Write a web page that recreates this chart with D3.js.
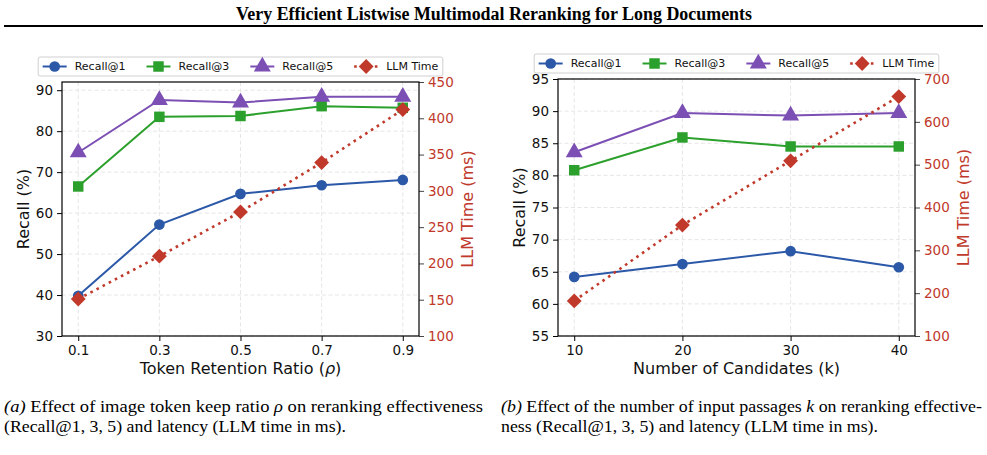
<!DOCTYPE html>
<html>
<head>
<meta charset="utf-8">
<script src="https://cdn.jsdelivr.net/npm/d3@7"></script>
<style>
  body { margin: 0; background: #fff; }
  svg { display: block; }
  .tick text { font-family: "DejaVu Sans", sans-serif; }
</style>
</head>
<body>
<svg id="fig" width="987" height="455"></svg>
<script>
// values
const seriesNames = ["Recall@1", "Recall@3", "Recall@5", "LLM Time"];

const ratioTicks = [0.1, 0.3, 0.5, 0.7, 0.9];
const ratioR1 = [39.8, 57.2, 64.7, 66.8, 68.1];
const ratioR3 = [66.5, 83.5, 83.7, 86.1, 85.7];
const ratioR5 = [74.8, 87.6, 87.0, 88.4, 88.4];
const ratioTime = [151, 210, 271, 339, 412];
const ratioRecallTicks = [30, 40, 50, 60, 70, 80, 90];
const ratioTimeTicks = [100, 150, 200, 250, 300, 350, 400, 450];

const candTicks = [10, 20, 30, 40];
const candR1 = [64.2, 66.2, 68.2, 65.7];
const candR3 = [80.8, 85.9, 84.5, 84.5];
const candR5 = [83.6, 89.7, 89.3, 89.7];
const candTime = [182, 359, 509, 659];
const candRecallTicks = [55, 60, 65, 70, 75, 80, 85, 90, 95];
const candTimeTicks = [100, 200, 300, 400, 500, 600, 700];

const colors = ["#2c58a8", "#2ca02c", "#7b4fb3", "#c0392b"];
const symbols = [d3.symbolCircle, d3.symbolSquare, d3.symbolTriangle, d3.symbolSquare];
const symSizes = [90, 110, 125, 110];
const symRotate = [0, 0, 0, 45];   // matplotlib 'D' is a square turned 45 degrees

const svg = d3.select("#fig");
const sans = "DejaVu Sans, sans-serif";
const serif = "Liberation Serif, Times New Roman, serif";

// title + rule
svg.append("text")
  .attr("x", 236).attr("y", 20)
  .attr("textLength", 516).attr("lengthAdjust", "spacingAndGlyphs")
  .style("font-family", serif).style("font-weight", "bold").style("font-size", "18px")
  .text("Very Efficient Listwise Multimodal Reranking for Long Documents");
svg.append("line")
  .attr("x1", 4).attr("x2", 983).attr("y1", 26).attr("y2", 26)
  .attr("stroke", "#000").attr("stroke-width", 2);

function marker(sel, i) {
  return sel.append("path")
    .attr("d", d3.symbol().type(symbols[i]).size(symSizes[i]))
    .attr("fill", colors[i]);
}

function drawPanel(p) {
  const x = d3.scaleLinear().domain(p.xDomain).range([p.left, p.right]);
  const y = d3.scaleLinear().domain(p.yDomain).range([p.bottom, p.top]);
  const y2 = d3.scaleLinear().domain(p.y2Domain).range([p.bottom, p.top]);
  const g = svg.append("g");

  // grid
  g.append("g").selectAll("line").data(p.xTicks).join("line")
    .attr("x1", d => x(d)).attr("x2", d => x(d))
    .attr("y1", p.top).attr("y2", p.bottom)
    .attr("stroke", "#e3e3e3").attr("stroke-dasharray", "4,2.5").attr("stroke-width", 0.9);
  g.append("g").selectAll("line").data(p.yTicks).join("line")
    .attr("x1", p.left).attr("x2", p.right)
    .attr("y1", d => y(d)).attr("y2", d => y(d))
    .attr("stroke", "#e3e3e3").attr("stroke-dasharray", "4,2.5").attr("stroke-width", 0.9);

  // axes
  const ax = g.append("g").attr("transform", `translate(0,${p.bottom})`)
    .call(d3.axisBottom(x).tickValues(p.xTicks).tickFormat(p.xFormat).tickSize(5).tickPadding(4));
  const ay = g.append("g").attr("transform", `translate(${p.left},0)`)
    .call(d3.axisLeft(y).tickValues(p.yTicks).tickSize(5).tickPadding(4));
  const ay2 = g.append("g").attr("transform", `translate(${p.right},0)`)
    .call(d3.axisRight(y2).tickValues(p.y2Ticks).tickSize(5).tickPadding(4));
  [ax, ay, ay2].forEach(a => {
    a.select(".domain").remove();
    a.selectAll(".tick line").attr("stroke", "#000").attr("stroke-width", 1);
    a.selectAll(".tick text").style("font-size", "13.5px").attr("fill", "#111");
  });
  ay2.selectAll(".tick text").attr("fill", colors[3]);
  ay2.selectAll(".tick line").attr("stroke", "#444");

  // frame
  g.append("rect")
    .attr("x", p.left).attr("y", p.top)
    .attr("width", p.right - p.left).attr("height", p.bottom - p.top)
    .attr("fill", "none").attr("stroke", "#000").attr("stroke-width", 1.2);

  // recall series
  p.recall.forEach((vals, i) => {
    const line = d3.line().x((d, j) => x(p.xTicks[j])).y(d => y(d));
    g.append("path").datum(vals)
      .attr("d", line).attr("fill", "none")
      .attr("stroke", colors[i]).attr("stroke-width", 2);
    g.append("g").selectAll("path").data(vals).join("path")
      .attr("transform", (d, j) => `translate(${x(p.xTicks[j])},${y(d)})`)
      .attr("d", d3.symbol().type(symbols[i]).size(symSizes[i]))
      .attr("fill", colors[i]);
  });

  // time series on the twin axis
  const tline = d3.line().x((d, j) => x(p.xTicks[j])).y(d => y2(d));
  g.append("path").datum(p.time)
    .attr("d", tline).attr("fill", "none")
    .attr("stroke", colors[3]).attr("stroke-width", 2.6)
    .attr("stroke-dasharray", "2.6,4.3");
  g.append("g").selectAll("path").data(p.time).join("path")
    .attr("transform", (d, j) => `translate(${x(p.xTicks[j])},${y2(d)}) rotate(45)`)
    .attr("d", d3.symbol().type(symbols[3]).size(symSizes[3]))
    .attr("fill", colors[3]);

  // axis labels
  const cy = (p.top + p.bottom) / 2;
  g.append("text")
    .attr("transform", `translate(${p.left - 39},${cy}) rotate(-90)`)
    .attr("text-anchor", "middle").attr("dy", "0.35em")
    .style("font-family", sans).style("font-size", "16px").attr("fill", "#111")
    .text("Recall (%)");
  g.append("text")
    .attr("transform", `translate(${p.right + 48},${cy}) rotate(-90)`)
    .attr("text-anchor", "middle").attr("dy", "0.35em")
    .style("font-family", sans).style("font-size", "16px").attr("fill", colors[3])
    .text("LLM Time (ms)");
  const xl = g.append("text")
    .attr("x", (p.left + p.right) / 2).attr("y", p.bottom + 38)
    .attr("text-anchor", "middle")
    .style("font-family", sans).style("font-size", "16px").attr("fill", "#111");
  p.xLabel(xl);

  // legend
  const lg = g.append("g");
  const box = lg.append("rect")
    .attr("fill", "#fff").attr("stroke", "#d0d0d0").attr("stroke-width", 1).attr("rx", 2);
  let cx = 0;
  seriesNames.forEach((name, i) => {
    const it = lg.append("g").attr("transform", `translate(${cx},0)`);
    it.append("line").attr("x1", 0).attr("x2", 24).attr("y1", 0).attr("y2", 0)
      .attr("stroke", colors[i]).attr("stroke-width", i === 3 ? 2.6 : 2)
      .attr("stroke-dasharray", i === 3 ? "2.6,4.3" : null);
    marker(it, i).attr("transform", `translate(12,0) rotate(${symRotate[i]})`);
    const t = it.append("text").attr("x", 32).attr("dy", "0.35em")
      .style("font-family", sans).style("font-size", "11px").attr("fill", "#111")
      .text(name);
    cx += 32 + t.node().getComputedTextLength() + 21;
  });
  const lw = cx - 21;
  const lx = (p.left + p.right) / 2 - lw / 2;
  lg.attr("transform", `translate(${lx},${p.legendY})`);
  box.attr("x", -4.5).attr("y", -9.5).attr("width", lw + 9).attr("height", 19);
}

drawPanel({
  left: 62, right: 419, top: 82, bottom: 336, legendY: 66.5,
  xDomain: [0.06, 0.94], yDomain: [30, 92], y2Domain: [100, 450],
  xTicks: ratioTicks, yTicks: ratioRecallTicks, y2Ticks: ratioTimeTicks,
  xFormat: d3.format(".1f"),
  recall: [ratioR1, ratioR3, ratioR5], time: ratioTime,
  xLabel: t => {
    t.append("tspan").text("Token Retention Ratio (");
    t.append("tspan").style("font-style", "italic").text("ρ");
    t.append("tspan").text(")");
  }
});

drawPanel({
  left: 558, right: 915, top: 79, bottom: 336, legendY: 63.5,
  xDomain: [8.5, 41.5], yDomain: [55, 95], y2Domain: [100, 700],
  xTicks: candTicks, yTicks: candRecallTicks, y2Ticks: candTimeTicks,
  xFormat: d3.format("d"),
  recall: [candR1, candR3, candR5], time: candTime,
  xLabel: t => t.text("Number of Candidates (k)")
});

// captions (the reference type is narrow, so glyphs are squeezed to the measured widths)
function caption(x0, w1, w2, tag, line1, mathVar, line1b, line2) {
  const t1 = svg.append("text").attr("x", x0).attr("y", 412)
    .style("font-family", serif).style("font-size", "17.5px").attr("fill", "#000")
    .attr("textLength", w1).attr("lengthAdjust", "spacingAndGlyphs");
  t1.append("tspan").style("font-style", "italic").text(tag);
  t1.append("tspan").text(line1);
  t1.append("tspan").style("font-style", "italic").text(mathVar);
  t1.append("tspan").text(line1b);
  svg.append("text").attr("x", x0).attr("y", 432)
    .style("font-family", serif).style("font-size", "17.5px").attr("fill", "#000")
    .attr("textLength", w2).attr("lengthAdjust", "spacingAndGlyphs")
    .text(line2);
}
caption(4, 479, 342, "(a)", " Effect of image token keep ratio ", "ρ", " on reranking effectiveness",
  "(Recall@1, 3, 5) and latency (LLM time in ms).");
caption(501, 481, 377, "(b)", " Effect of the number of input passages ", "k", " on reranking effective-",
  "ness (Recall@1, 3, 5) and latency (LLM time in ms).");
</script>
</body>
</html>
